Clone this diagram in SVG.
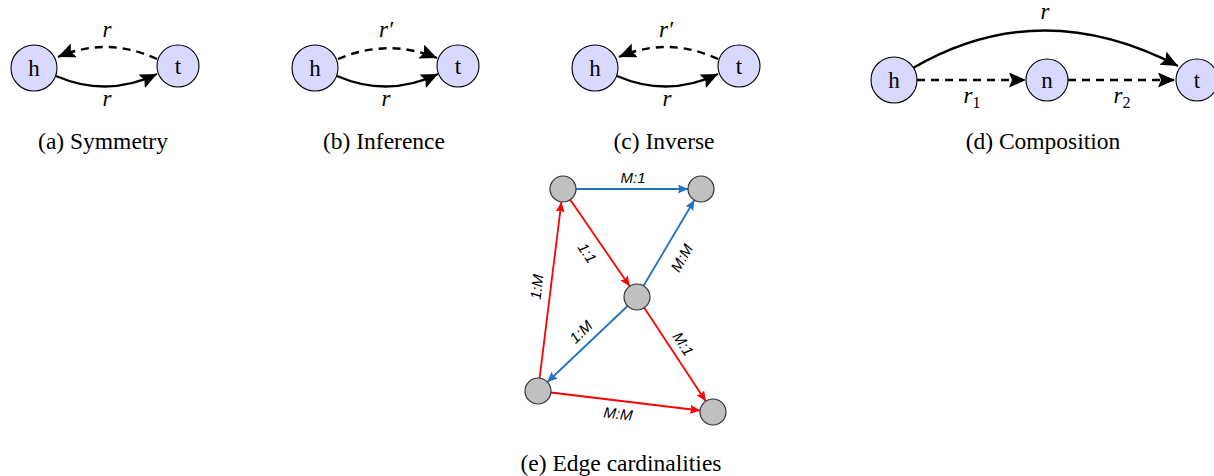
<svg xmlns="http://www.w3.org/2000/svg" width="1214" height="476" viewBox="0 0 1214 476">
<defs>
<style>
.node{fill:#d9d9ff;stroke:#000;stroke-width:1.1}
.gnode{fill:#c0c0c0;stroke:#333;stroke-width:1.2}
.nl{font-size:23px;text-anchor:middle;fill:#000}
.cap{font-size:23.5px;text-anchor:middle;fill:#000}
.math{font-style:italic;font-size:23px;text-anchor:middle;fill:#000}
.sol{fill:none;stroke:#000;stroke-width:2.4;marker-end:url(#ab)}
.dash{fill:none;stroke:#000;stroke-width:2.4;stroke-dasharray:8 6;marker-end:url(#ab)}
.red{fill:none;stroke:#ff0000;stroke-width:1.8;marker-end:url(#ar)}
.blue{fill:none;stroke:#1f72c0;stroke-width:1.8;marker-end:url(#abl)}
.el{font-style:italic;font-size:15px;text-anchor:middle;fill:#000}
</style>
<marker id="ab" markerUnits="userSpaceOnUse" markerWidth="18" markerHeight="16" refX="17" refY="7.5" orient="auto" viewBox="0 0 18 16">
<path d="M0,0 L17,7.5 L0,15 L3,7.5 z" fill="#000"/>
</marker>
<marker id="ar" markerUnits="userSpaceOnUse" markerWidth="11" markerHeight="10" refX="10" refY="4.5" orient="auto" viewBox="0 0 11 10">
<path d="M0,0 L10,4.5 L0,9 L1.5,4.5 z" fill="#ff0000"/>
</marker>
<marker id="abl" markerUnits="userSpaceOnUse" markerWidth="11" markerHeight="10" refX="10" refY="4.5" orient="auto" viewBox="0 0 11 10">
<path d="M0,0 L10,4.5 L0,9 L1.5,4.5 z" fill="#1f72c0"/>
</marker>
</defs>

<g id="connectors">
<path class="dash" d="M157,59 Q107,36 58,57"/>
<path class="sol" d="M56,76 Q107,98 157,74"/>
<path class="dash" d="M338,59 Q388,38 437,58"/>
<path class="sol" d="M337,76 Q388,98 438,74"/>
<path class="dash" d="M718,59 Q668,36 619,57"/>
<path class="sol" d="M617,76 Q668,98 718,74"/>
<path class="sol" d="M913,68 Q1040,-6 1178,66"/>
<path class="dash" d="M917,80 L1026,80"/>
<path class="dash" d="M1068,80 L1175,80"/>
<path class="blue" d="M576,189 L688,189"/>
<path class="red" d="M570.3,199.7 L629.7,286.3"/>
<path class="blue" d="M643.6,285.8 L694.4,200"/>
<path class="red" d="M539.6,378.1 L561.4,202"/>
<path class="blue" d="M627.6,306 L547.4,382"/>
<path class="red" d="M644.2,307.8 L705.8,401.2"/>
<path class="red" d="M550.9,392.5 L700.1,410.5"/>
</g>

<g id="edge-labels" font-family="'Liberation Serif', 'DejaVu Serif', serif">
<text class="math" x="107" y="37">r</text>
<text class="math" x="107" y="106">r</text>
<text class="math" x="386" y="37">r′</text>
<text class="math" x="386" y="106">r</text>
<text class="math" x="666" y="37">r′</text>
<text class="math" x="667" y="106">r</text>
<text class="math" x="1045" y="19">r</text>
<text class="math" x="972" y="103">r<tspan font-style="normal" font-size="16" dy="5">1</tspan></text>
<text class="math" x="1122" y="103">r<tspan font-style="normal" font-size="16" dy="5">2</tspan></text>
</g>
<g id="cardinality-labels" font-family="'Liberation Sans', 'DejaVu Sans', sans-serif">
<text class="el" x="633" y="183">M:1</text>
<text class="el" transform="translate(587,253) rotate(56)" y="5">1:1</text>
<text class="el" transform="translate(682,258) rotate(-60)" y="5">M:M</text>
<text class="el" transform="translate(537,287) rotate(-83)" y="5">1:M</text>
<text class="el" transform="translate(581,332) rotate(-44)" y="5">1:M</text>
<text class="el" transform="translate(683,344) rotate(57)" y="5">M:1</text>
<text class="el" transform="translate(618,414) rotate(7)" y="5">M:M</text>
</g>

<g font-family="'Liberation Serif', 'DejaVu Serif', serif">
<g id="a-h"><circle class="node" cx="34" cy="68" r="23"/><text class="nl" x="34" y="76">h</text></g>
<g id="a-t"><circle class="node" cx="178" cy="66" r="21"/><text class="nl" x="178" y="74">t</text></g>
<g id="b-h"><circle class="node" cx="315" cy="68" r="23"/><text class="nl" x="315" y="76">h</text></g>
<g id="b-t"><circle class="node" cx="458" cy="66" r="21"/><text class="nl" x="458" y="74">t</text></g>
<g id="c-h"><circle class="node" cx="595" cy="68" r="23"/><text class="nl" x="595" y="76">h</text></g>
<g id="c-t"><circle class="node" cx="739" cy="66" r="21"/><text class="nl" x="739" y="74">t</text></g>
<g id="d-h"><circle class="node" cx="894" cy="80" r="23"/><text class="nl" x="894" y="88">h</text></g>
<g id="d-n"><circle class="node" cx="1047" cy="80" r="21"/><text class="nl" x="1047" y="88">n</text></g>
<g id="d-t"><circle class="node" cx="1197" cy="80" r="21"/><text class="nl" x="1197" y="88">t</text></g>
</g>

<g id="e-tl"><circle class="gnode" cx="563" cy="189" r="13"/></g>
<g id="e-tr"><circle class="gnode" cx="701" cy="189" r="13"/></g>
<g id="e-m"><circle class="gnode" cx="637" cy="297" r="13"/></g>
<g id="e-bl"><circle class="gnode" cx="538" cy="391" r="13"/></g>
<g id="e-br"><circle class="gnode" cx="713" cy="412" r="13"/></g>

<g id="captions" font-family="'Liberation Serif', 'DejaVu Serif', serif">
<text class="cap" x="103" y="149">(a) Symmetry</text>
<text class="cap" x="384" y="149">(b) Inference</text>
<text class="cap" x="664" y="149">(c) Inverse</text>
<text class="cap" x="1043" y="149">(d) Composition</text>
<text class="cap" x="621" y="471">(e) Edge cardinalities</text>
</g>
</svg>
